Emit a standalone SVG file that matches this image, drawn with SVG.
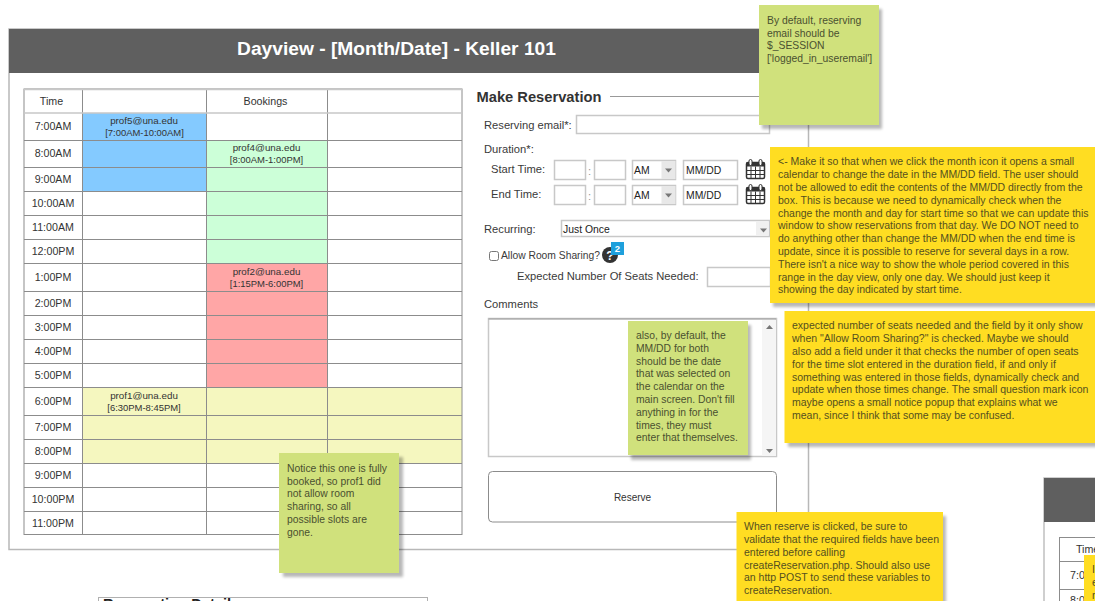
<svg xmlns="http://www.w3.org/2000/svg" width="1095" height="601" viewBox="0 0 1095 601">
<style>
text{font-family:"Liberation Sans",Arial,sans-serif;fill:#333}
.cell text{font-size:10.67px;text-anchor:middle}
.cell text.who{font-size:9.8px}
.cell text.when{font-size:9.45px}
.lab{font-size:11.2px;fill:#3a3a3a}
.val{font-size:10.4px;fill:#222}
.inp{fill:#fff;stroke:#c8c8c8;stroke-width:1.5}
.g{stroke:#8c8c8c;stroke-width:1;fill:none}
.note text{font-size:10.5px;fill:#55501f}
.gn text{font-size:10.35px;fill:#4a5030}
.sh{fill:#000;opacity:.28;filter:url(#b)}
.hd{fill:#5f5f5f}
</style>
<defs>
<filter id="b" x="-10%" y="-10%" width="120%" height="120%"><feGaussianBlur stdDeviation="1.6"/></filter>
<g id="cal"><rect x="-9" y="-6" width="18" height="16" rx="1.5" fill="#fff" stroke="#333" stroke-width="1.5"/><rect x="-9" y="-6" width="18" height="4" fill="#333"/><path d="M-9 2h18M-9 6h18M-4.500 -2v12M0 -2v12M4.500 -2v12" stroke="#333" stroke-width="1"/><rect x="-6.500" y="-9" width="3" height="6" rx="1.500" fill="#fff" stroke="#333"/><rect x="3.500" y="-9" width="3" height="6" rx="1.500" fill="#fff" stroke="#333"/></g>
<g id="arr"><rect x="-7" y="-9" width="14" height="18" fill="#e8e8e8"/><path d="M-3.500 -1.500h7l-3.500 4z" fill="#777"/></g>
</defs>
<rect width="1095" height="601" fill="#fff"/>

<g id="dayview-panel">
<rect x="9" y="29" width="799.500" height="520.500" fill="#fff" stroke="#b8b8b8" stroke-width="1.500"/>
<rect class="hd" x="9" y="29" width="799.500" height="44"/>
<text x="396.500" y="54.500" text-anchor="middle" font-size="19.200" font-weight="700" style="fill:#fff">Dayview - [Month/Date] - Keller 101</text>
</g>

<g id="schedule">
<rect x="83" y="113" width="124" height="78" fill="#84caff"/>
<rect x="207" y="140" width="121" height="124" fill="#ccffd8"/>
<rect x="207" y="264" width="121" height="124" fill="#ffa6a6"/>
<rect x="83" y="388" width="379" height="75.500" fill="#f5f7bf"/>
<path class="g" d="M24 140.500H462M24 167.500H462M24 191.500H462M24 215.500H462M24 239.500H462M24 263.500H462M24 291.500H462M24 315.500H462M24 339.500H462M24 363.500H462M24 387.500H462M24 415.500H462M24 439.500H462M24 463.500H462M24 487.500H462M24 511.500H462M82.500 89V535M206.500 89V535M327.500 89V535"/>
<rect x="24" y="89" width="438" height="445.500" fill="none" stroke="#8c8c8c"/>
<path d="M24 89.500H462M24 113H462" stroke="#c8c8c8" stroke-width="1.500" fill="none"/>
<g class="cell">
<text x="51.500" y="105">Time</text><text x="265.500" y="105">Bookings</text>
<text x="53" y="130">7:00AM</text><text x="53" y="157">8:00AM</text><text x="53" y="183">9:00AM</text><text x="53" y="207">10:00AM</text><text x="53" y="231">11:00AM</text><text x="53" y="255">12:00PM</text><text x="53" y="281">1:00PM</text><text x="53" y="307">2:00PM</text><text x="53" y="331">3:00PM</text><text x="53" y="355">4:00PM</text><text x="53" y="379">5:00PM</text><text x="53" y="405">6:00PM</text><text x="53" y="431">7:00PM</text><text x="53" y="455">8:00PM</text><text x="53" y="479">9:00PM</text><text x="53" y="503">10:00PM</text><text x="53" y="527">11:00PM</text>
<text class="who" x="144" y="124">prof5@una.edu</text><text class="when" x="144.500" y="136">[7:00AM-10:00AM]</text>
<text class="who" x="266.500" y="151">prof4@una.edu</text><text class="when" x="266.500" y="163">[8:00AM-1:00PM]</text>
<text class="who" x="266.500" y="275">prof2@una.edu</text><text class="when" x="266.500" y="287">[1:15PM-6:00PM]</text>
<text class="who" x="144" y="399">prof1@una.edu</text><text class="when" x="144" y="411">[6:30PM-8:45PM]</text>
</g>
</g>

<g id="reservation-form">
<text x="476.500" y="102" font-size="14.700" font-weight="700" style="fill:#333">Make Reservation</text>
<path d="M610 96.500H770" stroke="#999"/>
<text class="lab" x="484" y="129">Reserving email*:</text>
<rect class="inp" x="576.500" y="115.500" width="193" height="18"/>
<text class="lab" x="484" y="153">Duration*:</text>
<text class="lab" x="491" y="173">Start Time:</text>
<text class="lab" x="491" y="198">End Time:</text>
<rect class="inp" x="554.500" y="160.500" width="31" height="19"/><text class="lab" x="588" y="175" style="fill:#999">:</text><rect class="inp" x="594.500" y="160.500" width="31" height="19"/>
<rect class="inp" x="554.500" y="185.500" width="31" height="19"/><text class="lab" x="588" y="200" style="fill:#999">:</text><rect class="inp" x="594.500" y="185.500" width="31" height="19"/>
<rect class="inp" x="632.500" y="160.500" width="43" height="19"/><use href="#arr" x="668.500" y="170"/><text class="val" x="634" y="174">AM</text>
<rect class="inp" x="632.500" y="185.500" width="43" height="19"/><use href="#arr" x="668.500" y="195"/><text class="val" x="634" y="199">AM</text>
<rect class="inp" x="683.500" y="160.500" width="54" height="19"/><text class="val" x="686" y="174">MM/DD</text>
<rect class="inp" x="683.500" y="185.500" width="54" height="19"/><text class="val" x="686" y="199">MM/DD</text>
<use href="#cal" x="755.500" y="168.500"/><use href="#cal" x="755.500" y="193.500"/>
<text class="lab" x="484" y="233">Recurring:</text>
<rect class="inp" x="561.500" y="220.500" width="208" height="16"/><rect x="756" y="221.500" width="13" height="14" fill="#f0f0f0"/><path d="M760 228.500h7l-3.500 4z" fill="#777"/>
<text class="val" x="563" y="233">Just Once</text>
<rect x="489.500" y="251.500" width="9" height="9" rx="2" fill="#fff" stroke="#777"/>
<text class="lab" x="501" y="259" textLength="99" lengthAdjust="spacingAndGlyphs" style="font-size:10.750px">Allow Room Sharing?</text>
<circle cx="610" cy="255" r="8" fill="#333"/><text x="610" y="259.500" text-anchor="middle" font-size="12" font-weight="700" style="fill:#fff">?</text>
<rect x="611" y="242" width="13" height="13" fill="#1ea0dc"/><text x="617.500" y="252" text-anchor="middle" font-size="9.500" font-weight="700" style="fill:#fff">2</text>
<text class="lab" x="517" y="280">Expected Number Of Seats Needed:</text>
<rect class="inp" x="707.500" y="267.500" width="63" height="19"/>
<text class="lab" x="484" y="308">Comments</text>
<rect x="488.500" y="318.500" width="288" height="138" fill="#fff" stroke="#c8c8c8" stroke-width="1.500"/>
<path d="M488.500 319H776" stroke="#999"/>
<rect x="762" y="320" width="14" height="136" fill="#f5f5f5"/>
<path d="M766 329h7l-3.500-4zM766 449h7l-3.500 4z" fill="#777"/>
<rect x="488.500" y="471.500" width="288" height="50.500" rx="4" fill="#fff" stroke="#8c8c8c"/>
<text x="632.500" y="501" text-anchor="middle" font-size="10">Reserve</text>
</g>

<g id="second-dayview">
<rect x="1044" y="478" width="60" height="130" fill="#fff" stroke="#c0c0c0" stroke-width="1.500"/>
<rect class="hd" x="1044" y="478" width="60" height="44"/>
<rect x="1059.500" y="537.500" width="50" height="70" fill="none" stroke="#8c8c8c"/>
<path d="M1059.500 561.500H1095M1059.500 589.500H1095" stroke="#8c8c8c"/>
<text x="1076" y="553" font-size="10.670">Time</text><text x="1070" y="579" font-size="10.670">7:00AM</text><text x="1070" y="604" font-size="10.670">8:00AM</text>
</g>

<g id="details-box">
<rect x="98.500" y="597.500" width="329" height="20" fill="#fff" stroke="#b0b0b0"/>
<text x="103" y="609" font-size="14.700" font-weight="700" style="fill:#222">Reservation Details</text>
</g>

<g id="connectors"/>

<g id="note-email">
<rect class="sh" x="762" y="9" width="120" height="120"/>
<rect x="759" y="5" width="120" height="120" fill="#d0e17c"/>
<g class="gn"><text x="767" y="24">By default, reserving</text><text x="767" y="37">email should be</text><text x="767" y="49">$_SESSION</text><text x="767" y="62">['logged_in_useremail']</text></g>
</g>
<g id="note-calendar">
<rect class="sh" x="773" y="151" width="330" height="156"/>
<rect x="770" y="147" width="325" height="156" fill="#ffdd22"/>
<g class="note">
<text x="778" y="165">&lt;- Make it so that when we click the month icon it opens a small</text>
<text x="778" y="178">calendar to change the date in the MM/DD field. The user should</text>
<text x="778" y="191">not be allowed to edit the contents of the MM/DD directly from the</text>
<text x="778" y="204">box. This is because we need to dynamically check when the</text>
<text x="778" y="217">change the month and day for start time so that we can update this</text>
<text x="778" y="229">window to show reservations from that day. We DO NOT need to</text>
<text x="778" y="242">do anything other than change the MM/DD when the end time is</text>
<text x="778" y="255">update, since it is possible to reserve for several days in a row.</text>
<text x="778" y="268">There isn't a nice way to show the whole period covered in this</text>
<text x="778" y="281">range in the day view, only one day. We should just keep it</text>
<text x="778" y="293">showing the day indicated by start time.</text>
</g></g>
<g id="note-seats">
<rect class="sh" x="788" y="315" width="315" height="132"/>
<rect x="784.500" y="311" width="311" height="132" fill="#ffdd22"/>
<g class="note">
<text x="792" y="329">expected number of seats needed and the field by it only show</text>
<text x="792" y="342">when "Allow Room Sharing?" is checked. Maybe we should</text>
<text x="792" y="355">also add a field under it that checks the number of open seats</text>
<text x="792" y="368">for the time slot entered in the duration field, if and only if</text>
<text x="792" y="381">something was entered in those fields, dynamically check and</text>
<text x="792" y="393">update when those times change. The small question mark icon</text>
<text x="792" y="406">maybe opens a small notice popup that explains what we</text>
<text x="792" y="419">mean, since I think that some may be confused.</text>
</g></g>
<g id="note-default-date">
<rect class="sh" x="631" y="325" width="120" height="135"/>
<rect x="628" y="321" width="120" height="134" fill="#d0e17c"/>
<g class="gn">
<text x="636" y="339">also, by default, the</text><text x="636" y="352">MM/DD for both</text><text x="636" y="365">should be the date</text><text x="636" y="377">that was selected on</text><text x="636" y="390">the calendar on the</text><text x="636" y="403">main screen. Don't fill</text><text x="636" y="416">anything in for the</text><text x="636" y="429">times, they must</text><text x="636" y="441">enter that themselves.</text>
</g></g>
<g id="note-reserve">
<rect class="sh" x="740" y="516" width="206" height="90"/>
<rect x="736.500" y="512" width="206.500" height="89" fill="#ffdd22"/>
<g class="note">
<text x="744" y="530">When reserve is clicked, be sure to</text><text x="744" y="543">validate that the required fields have been</text><text x="744" y="556">entered before calling</text><text x="744" y="569">createReservation.php. Should also use</text><text x="744" y="581">an http POST to send these variables to</text><text x="744" y="594">createReservation.</text>
</g></g>
<g id="note-booked">
<rect class="sh" x="283" y="457" width="120" height="120"/>
<rect x="279" y="453" width="120" height="120" fill="#d0e17c"/>
<g class="gn">
<text x="287" y="472">Notice this one is fully</text><text x="287" y="485">booked, so prof1 did</text><text x="287" y="497">not allow room</text><text x="287" y="510">sharing, so all</text><text x="287" y="523">possible slots are</text><text x="287" y="536">gone.</text>
</g></g>
<g id="note-corner">
<rect x="1084" y="555" width="11" height="46" fill="#ffdd22"/>
<g class="note"><text x="1092" y="573">I</text><text x="1092" y="586">e</text><text x="1092" y="599">r</text></g>
</g>
</svg>
